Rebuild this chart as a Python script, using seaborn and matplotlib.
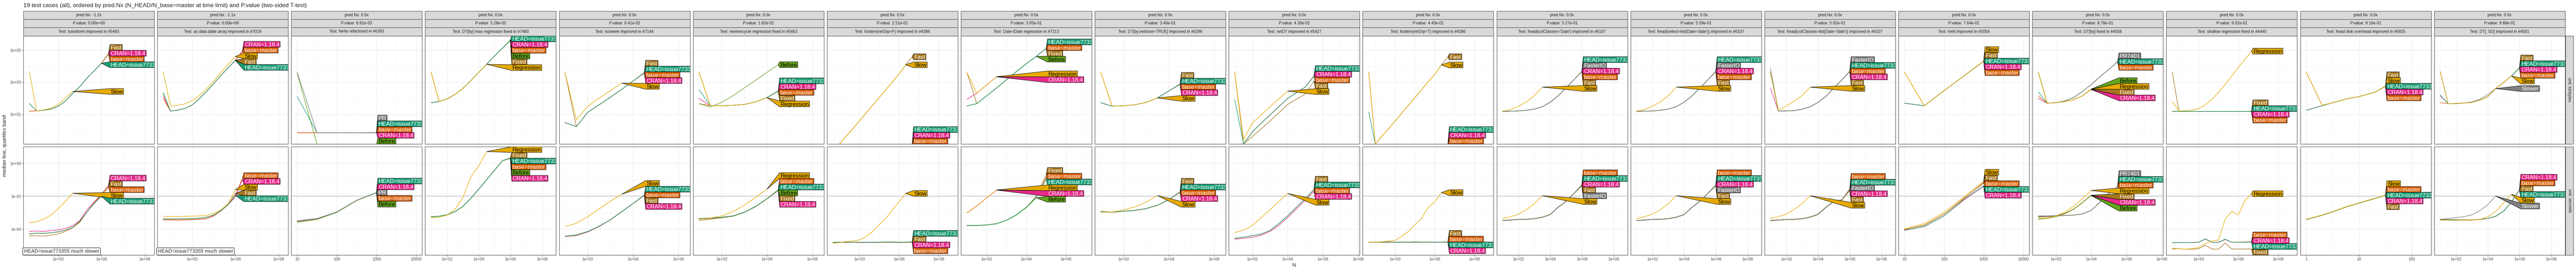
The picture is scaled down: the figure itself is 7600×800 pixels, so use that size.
import numpy as np
import pandas as pd
import matplotlib
matplotlib.use("Agg")
import matplotlib.pyplot as plt
import seaborn as sns
from matplotlib.patches import Polygon
from matplotlib.ticker import NullFormatter

sns.set_theme(style="white")
plt.rcParams["font.family"] = ["Liberation Sans", "DejaVu Sans"]

H = "HEAD=issue773355"
B = "base=master"
C = "CRAN=1.18.4"

TITLE = ("19 test cases (all), ordered by pred.Nx (N_HEAD/N_base=master at time limit) "
         "and P.value (two-sided T-test)")
PRED_NX = ["-1.2x", "-1.1x", "0.0x", "0.0x", "0.0x", "0.0x", "0.0x", "0.0x", "0.0x", "0.0x",
           "0.0x", "0.0x", "0.0x", "0.0x", "0.0x", "0.0x", "0.0x", "0.0x", "0.0x"]
P_VALUES = ["0.00e+00", "0.00e+00", "8.81e-03", "5.28e-02", "9.41e-02", "1.82e-01", "2.51e-01",
            "3.05e-01", "3.40e-01", "4.30e-01", "4.45e-01", "5.27e-01", "5.59e-01", "5.62e-01",
            "7.64e-01", "8.78e-01", "9.02e-01", "9.16e-01", "9.88e-01"]
TESTS = ["transform improved in #5493", "as.data.table.array improved in #7019",
         "fwrite refactored in #6393", "DT[by] max regression fixed in #7480",
         "isoweek improved in #7144", "memrecycle regression fixed in #5463",
         "forderv(retGrp=F) improved in #4386", "Date-IDate regression in #7213",
         "DT[by,verbose=TRUE] improved in #6296", "setDT improved in #5427",
         "forderv(retGrp=T) improved in #4386", "fread(colClasses='Date') improved in #6107",
         "fread(select=list(Date='date')) improved in #6107",
         "fread(colClasses=list(Date='date')) improved in #6107", "melt improved in #5054",
         "DT[by] fixed in #4558", "shallow regression fixed in #4440",
         "fread disk overhead improved in #6925", "DT[,.SD] improved in #4501"]
ROW_UNITS = ["unit: kilobytes", "unit: seconds"]
SLOWER_NOTE = "HEAD=issue773355 much slower"

# N grids
N_HALF = [10, 31.6, 100, 316, 1000, 3160, 1e4, 3.16e4, 1e5, 3.16e5, 1e6, 3.16e6, 1e7]
N_FEW = [1, 2, 3, 6, 10, 20, 32]

# x ticks per panel (values and labels)
X_TICKS = [[1e3, 1e6, 1e9], [1e3, 1e6, 1e9], [10, 100, 1000, 10000], [1e2, 1e4, 1e6, 1e8],
           [1e2, 1e4, 1e6], [1e2, 1e4, 1e6], [1e3, 1e6, 1e9], [1e2, 1e4, 1e6], [1e2, 1e4, 1e6],
           [1e2, 1e4, 1e6, 1e8], [1e3, 1e6, 1e9], [1e2, 1e4, 1e6, 1e8], [1e2, 1e4, 1e6, 1e8],
           [1e2, 1e4, 1e6, 1e8], [10, 100, 1000, 10000], [1e2, 1e4, 1e6, 1e8], [1e3, 1e6, 1e9],
           [1, 10, 100], [1e2, 1e4, 1e6, 1e8]]
SCI3 = ["1e+03", "1e+06", "1e+09"]
SCI2 = ["1e+02", "1e+04", "1e+06"]
SCI24 = ["1e+02", "1e+04", "1e+06", "1e+08"]
PLAIN4 = ["10", "100", "1000", "10000"]
X_TICK_LABELS = [SCI3, SCI3, PLAIN4, SCI24, SCI2, SCI2, SCI3, SCI2, SCI2, SCI24, SCI3, SCI24,
                 SCI24, SCI24, PLAIN4, SCI24, SCI3, ["1", "10", "100"], SCI24]
Y_TICKS = [[1e1, 1e3, 1e5], [1e-4, 1e-2, 1e0]]
Y_TICK_LABELS = [["1e+01", "1e+03", "1e+05"], ["1e-04", "1e-02", "1e+00"]]
Y_MINOR = [[1e0, 1e2, 1e4, 1e6], [1e-5, 1e-3, 1e-1, 1e1]]
Y_LIMITS_LOG = [(-0.84, 5.89), (-5.59, 1.02)]
TIME_LIMIT = 1e-2

# ---------- data: log10(kilobytes) and log10(seconds) per version ----------
P00_KB = {"Slow": [3.67, 1.22, 1.28, 1.39, 1.63, 2.02, 2.43],
          H: [1.68, 1.22, 1.26, 1.33, 1.51, 1.83, 2.30, 2.73, 3.26, 3.72, 4.19],
          B: [1.21, 1.22, 1.26, 1.33, 1.51, 1.83, 2.30, 2.73, 3.26, 3.72, 4.19, 4.76],
          C: [1.21, 1.22, 1.26, 1.33, 1.51, 1.83, 2.30, 2.73, 3.26, 3.72, 4.19, 4.78],
          "Fast": [1.68, 1.22, 1.26, 1.33, 1.51, 1.83, 2.30, 2.73, 3.26, 3.72, 4.19, 4.80]}
P00_SEC = {"Slow": [-3.61, -3.56, -3.40, -3.15, -2.76, -2.32, -1.82],
           C: [-4.15, -4.12, -4.15, -4.09, -4.05, -3.97, -3.81, -3.48, -2.83, -2.35, -1.87, -1.33],
           H: [-4.30, -4.25, -4.27, -4.22, -4.17, -4.07, -3.90, -3.52, -2.97, -2.45, -2.00],
           B: [-4.31, -4.26, -4.28, -4.23, -4.18, -4.08, -3.92, -3.55, -2.95, -2.40, -1.95, -1.46],
           "Fast": [-4.43, -4.40, -4.43, -4.38, -4.30, -4.15, -3.92, -3.59, -2.97, -2.42, -1.87, -1.38]}

P01_KB = {"Slow": [3.64, 1.51, 1.57, 1.65, 1.86, 2.18, 2.59, 3.08, 3.62, 4.14, 4.61],
          H: [2.35, 1.21, 1.27, 1.37, 1.59, 1.98, 2.43, 2.92, 3.43, 3.91, 4.37],
          "Fast": [2.30, 1.21, 1.27, 1.37, 1.59, 1.98, 2.43, 2.92, 3.43, 3.91, 4.38],
          C: [2.13, 1.21, 1.27, 1.37, 1.59, 1.98, 2.43, 2.92, 3.43, 3.91, 4.37, 4.97],
          B: [1.98, 1.21, 1.27, 1.37, 1.59, 1.98, 2.43, 2.92, 3.43, 3.91, 4.37, 4.91]}
P01_SEC = {"Slow": [-3.23, -3.24, -3.24, -3.23, -3.22, -3.20, -3.16, -3.05, -2.83, -2.46, -1.60],
           H: [-3.39, -3.39, -3.39, -3.38, -3.37, -3.35, -3.28, -3.15, -2.88, -2.52, -1.94],
           "Fast": [-3.38, -3.38, -3.38, -3.37, -3.36, -3.34, -3.27, -3.14, -2.87, -2.50, -1.84],
           C: [-3.44, -3.45, -3.46, -3.45, -3.43, -3.41, -3.37, -3.20, -2.90, -2.52, -2.04, -0.99],
           B: [-3.43, -3.44, -3.45, -3.44, -3.42, -3.40, -3.36, -3.18, -2.89, -2.50, -1.94, -0.88]}

P02_KB = {"PR": [3.62, -0.14, -0.14, -0.14, -0.13],
          H: [2.11, -0.14, -0.14, -0.14, -0.135],
          B: [-0.14, -0.14, -0.14, -0.14, -0.14],
          C: [-0.14, -0.14, -0.14, -0.14, -0.145],
          "Before": [3.55, -0.86, -0.90, -0.90, -0.90]}
P02_SEC = {H: [-3.52, -3.37, -2.96, -2.25, -1.770],
           C: [-3.50, -3.36, -2.96, -2.25, -1.775],
           "PR": [-3.54, -3.38, -2.97, -2.25, -1.780],
           B: [-3.55, -3.39, -2.97, -2.26, -1.785],
           "Before": [-3.60, -3.42, -2.99, -2.27, -1.790]}

P03_KB = {"Regression": [3.62, 1.80, 1.97, 2.24, 2.62, 3.10, 3.62, 4.12],
          H: [1.73, 1.80, 1.97, 2.24, 2.62, 3.10, 3.62, 4.12, 4.64, 5.13, 5.64],
          C: [1.73, 1.80, 1.97, 2.24, 2.62, 3.10, 3.62, 4.12, 4.64, 5.13, 5.63],
          B: [1.73, 1.80, 1.97, 2.24, 2.62, 3.10, 3.62, 4.12, 4.64, 5.13, 5.62],
          "Before": [1.73, 1.80, 1.97, 2.24, 2.62, 3.10, 3.62, 4.12, 4.64, 5.13, 5.61],
          "Fixed": [3.62, 1.80, 1.97, 2.24, 2.62, 3.10, 3.62, 4.12, 4.64, 5.13, 5.60]}
P03_SEC = {"Regression": [-3.31, -3.29, -3.15, -2.80, -2.09, -0.83, -0.15, 0.72],
           "Fixed": [-3.25, -3.22, -3.13, -2.94, -2.62, -2.13, -1.57, -0.99, -0.41, 0.17, 0.34],
           H: [-3.25, -3.22, -3.13, -2.94, -2.62, -2.13, -1.57, -0.99, -0.41, 0.17, 0.33],
           B: [-3.25, -3.22, -3.13, -2.94, -2.62, -2.13, -1.57, -0.99, -0.41, 0.17, 0.32],
           "Before": [-3.27, -3.23, -3.14, -2.95, -2.63, -2.14, -1.58, -1.00, -0.42, 0.16, 0.31],
           C: [-3.26, -3.23, -3.14, -2.95, -2.63, -2.14, -1.58, -1.00, -0.42, 0.16, 0.30]}

P04_KB = {"Slow": [3.60, 0.67, 1.51, 2.00, 2.48, 2.95],
          H: [0.49, 0.24, 1.13, 1.60, 2.07, 2.56, 3.08, 3.60],
          "Fast": [3.60, 0.24, 1.13, 1.60, 2.07, 2.56, 3.08, 3.62],
          B: [0.49, 0.24, 1.13, 1.60, 2.07, 2.56, 3.08, 3.59],
          C: [0.49, 0.24, 1.13, 1.60, 2.07, 2.56, 3.08, 3.58]}
P04_SEC = {"Slow": [-3.85, -3.65, -3.25, -2.78, -2.31, -1.88],
           H: [-4.44, -4.36, -4.15, -3.83, -3.43, -2.94, -2.44, -1.92],
           B: [-4.44, -4.37, -4.15, -3.83, -3.43, -2.94, -2.44, -1.93],
           "Fast": [-4.45, -4.38, -4.16, -3.84, -3.44, -2.95, -2.45, -1.94],
           C: [-4.46, -4.40, -4.18, -3.85, -3.44, -2.95, -2.45, -1.95]}

P05_KB = {"Before": [1.67, 1.46, 1.75, 2.16, 2.65, 3.13, 3.62, 4.10],
          "Regression": [3.64, 1.54, 1.54, 1.57, 1.62, 1.78, 2.05],
          H: [2.54, 1.54, 1.54, 1.57, 1.62, 1.78, 2.05, 2.47],
          C: [2.00, 1.54, 1.54, 1.57, 1.62, 1.78, 2.05, 2.46],
          B: [1.67, 1.54, 1.54, 1.57, 1.62, 1.78, 2.05, 2.45],
          "Fixed": [3.64, 1.54, 1.54, 1.57, 1.62, 1.78, 2.05, 2.44]}
P05_SEC = {"Regression": [-3.41, -3.33, -3.20, -2.94, -2.55, -2.07, -1.57],
           B: [-3.36, -3.33, -3.28, -3.20, -2.97, -2.62, -2.15, -1.60],
           H: [-3.36, -3.33, -3.28, -3.20, -2.97, -2.62, -2.15, -1.62],
           "Before": [-3.40, -3.35, -3.29, -3.21, -2.98, -2.63, -2.16, -1.63],
           "Fixed": [-3.48, -3.40, -3.32, -3.22, -2.98, -2.63, -2.16, -1.64],
           C: [-3.40, -3.36, -3.30, -3.22, -2.99, -2.64, -2.17, -1.65]}

P06_KB = {"Slow": [-1.30, -0.84, -0.35, 0.10, 0.59, 1.08, 1.57, 2.05, 2.54, 3.03, 3.51, 4.09],
          "Fast": [-1.30, -0.84, -0.35, 0.10, 0.59, 1.08, 1.57, 2.05, 2.54, 3.03, 3.51, 4.09, 4.59],
          H: [-0.86, -0.86, -0.86, -0.86, -0.86, -0.86, -0.86, -0.86, -0.86, -0.86, -0.86, -0.86, -0.85],
          C: [-0.86, -0.86, -0.86, -0.86, -0.86, -0.86, -0.86, -0.86, -0.86, -0.86, -0.86, -0.86, -0.86],
          B: [-0.86, -0.86, -0.86, -0.86, -0.86, -0.86, -0.86, -0.86, -0.86, -0.86, -0.86, -0.86, -0.87]}
P06_SEC = {"Slow": [-4.88, -4.83, -4.76, -4.73, -4.67, -4.46, -4.15, -3.73, -3.36, -2.83, -2.36, -1.83],
           H: [-4.81, -4.80, -4.81, -4.79, -4.81, -4.80, -4.81, -4.80, -4.79, -4.80, -4.81, -4.80, -4.78],
           "Fast": [-4.82, -4.81, -4.80, -4.80, -4.82, -4.81, -4.80, -4.81, -4.80, -4.79, -4.80, -4.81, -4.79],
           C: [-4.83, -4.82, -4.82, -4.81, -4.83, -4.82, -4.82, -4.82, -4.81, -4.82, -4.82, -4.82, -4.80],
           B: [-4.82, -4.81, -4.82, -4.81, -4.82, -4.81, -4.82, -4.81, -4.82, -4.81, -4.82, -4.82, -4.81]}

P07_KB = {"Regression": [3.62, 2.32, 2.84, 3.35],
          C: [1.94, 2.32, 2.84, 3.34],
          H: [1.53, 1.67, 2.16, 2.65, 3.16, 3.67, 4.16, 4.62, 5.11],
          B: [1.53, 1.67, 2.16, 2.65, 3.16, 3.67, 4.16, 4.62, 5.10],
          "Fixed": [3.62, 1.67, 2.16, 2.65, 3.16, 3.67, 4.16, 4.62, 5.09],
          "Before": [1.53, 1.67, 2.16, 2.65, 3.16, 3.67, 4.16, 4.62]}
P07_SEC = {"Regression": [-3.01, -2.59, -2.09, -1.62],
           C: [-3.02, -2.60, -2.10, -1.63],
           H: [-3.78, -3.78, -3.75, -3.67, -3.46, -3.13, -2.67, -2.04, -0.95],
           B: [-3.78, -3.78, -3.75, -3.67, -3.46, -3.13, -2.67, -2.04, -0.85],
           "Fixed": [-3.79, -3.79, -3.76, -3.68, -3.47, -3.14, -2.68, -2.00, -0.70],
           "Before": [-3.80, -3.79, -3.76, -3.68, -3.47, -3.15, -2.70, -2.10]}

P08_KB = {"Slow": [3.62, 1.51, 1.54, 1.60, 1.75, 2.03],
          H: [1.73, 1.51, 1.54, 1.60, 1.75, 2.03, 2.46, 2.89],
          "Fast": [3.62, 1.51, 1.54, 1.60, 1.75, 2.03, 2.46, 2.90],
          B: [1.73, 1.51, 1.54, 1.60, 1.75, 2.03, 2.46, 2.88],
          C: [1.73, 1.51, 1.54, 1.60, 1.75, 2.03, 2.46, 2.87]}
P08_SEC = {"Slow": [-2.91, -2.97, -2.83, -2.65, -2.36, -1.96],
           H: [-2.94, -2.97, -2.91, -2.86, -2.75, -2.55, -2.20, -1.75],
           "Fast": [-2.96, -2.98, -2.92, -2.87, -2.76, -2.56, -2.21, -1.73],
           B: [-2.95, -2.97, -2.91, -2.86, -2.75, -2.55, -2.20, -1.76],
           C: [-2.95, -2.98, -2.92, -2.87, -2.76, -2.56, -2.21, -1.77]}

P09_KB = {"Slow": [3.64, -0.57, 0.47, 0.98, 1.48, 1.97, 2.45],
          H: [1.91, -0.84, -0.08, 0.45, 0.97, 1.48, 2.00, 2.35, 2.70, 3.40],
          C: [-0.90, -0.84, -0.08, 0.45, 0.97, 1.48, 2.00, 2.35, 2.70, 3.39],
          B: [-0.90, -0.84, -0.08, 0.45, 0.97, 1.48, 2.00, 2.35, 2.70, 3.38],
          "Fast": [3.64, -0.84, -0.38, 0.10, 0.59, 1.10, 1.62, 1.95, 2.27, 3.08]}
P09_SEC = {"Slow": [-4.22, -4.07, -3.78, -3.30, -2.83, -2.33, -1.83],
           H: [-4.57, -4.50, -4.41, -4.31, -4.09, -3.67, -3.20, -2.67, -2.15, -1.60],
           "Fast": [-4.57, -4.50, -4.41, -4.31, -4.09, -3.67, -3.20, -2.67, -2.15, -1.58],
           B: [-4.57, -4.50, -4.41, -4.31, -4.09, -3.67, -3.20, -2.67, -2.15, -1.61],
           C: [-4.62, -4.57, -4.51, -4.38, -4.15, -3.78, -3.30, -2.78, -2.25, -1.70]}

P10_KB = {"Slow": [3.64, -0.84, -0.35, 0.10, 0.59, 1.08, 1.57, 2.05, 2.54, 3.03, 3.49, 4.08],
          "Fast": [3.64, -0.84, -0.35, 0.10, 0.59, 1.08, 1.57, 2.05, 2.54, 3.03, 3.49, 4.08, 4.59],
          H: [1.16, -0.86, -0.86, -0.86, -0.86, -0.86, -0.86, -0.86, -0.86, -0.86, -0.86, -0.86, -0.85],
          C: [-0.86, -0.86, -0.86, -0.86, -0.86, -0.86, -0.86, -0.86, -0.86, -0.86, -0.86, -0.86, -0.86],
          B: [-0.86, -0.86, -0.86, -0.86, -0.86, -0.86, -0.86, -0.86, -0.86, -0.86, -0.86, -0.86, -0.87]}
P10_SEC = {"Slow": [-4.81, -4.81, -4.78, -4.73, -4.69, -4.44, -4.15, -3.73, -3.36, -2.67, -2.36, -1.78],
           "Fast": [-4.80, -4.79, -4.80, -4.78, -4.80, -4.79, -4.80, -4.78, -4.80, -4.79, -4.80, -4.80, -4.78],
           B: [-4.81, -4.80, -4.81, -4.80, -4.81, -4.80, -4.81, -4.80, -4.81, -4.80, -4.81, -4.80, -4.79],
           H: [-4.81, -4.80, -4.80, -4.79, -4.81, -4.80, -4.81, -4.80, -4.80, -4.80, -4.81, -4.80, -4.80],
           C: [-4.82, -4.81, -4.82, -4.81, -4.82, -4.81, -4.82, -4.81, -4.82, -4.81, -4.82, -4.81, -4.81]}

P11_KB = {"Slow": [1.21, 1.30, 1.51, 1.78, 2.16, 2.70],
          H: [1.19, 1.20, 1.22, 1.26, 1.33, 1.48, 1.76, 2.16, 2.65, 3.16, 3.70],
          "FasterIO": [1.19, 1.20, 1.22, 1.26, 1.33, 1.48, 1.76, 2.16, 2.65, 3.16, 3.69],
          C: [1.19, 1.20, 1.22, 1.26, 1.33, 1.48, 1.76, 2.16, 2.65, 3.16, 3.68],
          B: [1.19, 1.20, 1.22, 1.26, 1.33, 1.48, 1.76, 2.16, 2.65, 3.16, 3.67],
          "Fast": [1.19, 1.20, 1.22, 1.26, 1.33, 1.48, 1.76, 2.16, 2.65, 3.16, 3.66]}
P11_SEC = {"Slow": [-3.36, -3.25, -3.09, -2.83, -2.46, -1.97],
           B: [-3.47, -3.44, -3.41, -3.40, -3.36, -3.27, -3.11, -2.66, -2.30, -1.82, -1.30],
           H: [-3.48, -3.45, -3.41, -3.41, -3.37, -3.28, -3.12, -2.67, -2.31, -1.83, -1.33],
           C: [-3.49, -3.46, -3.42, -3.41, -3.38, -3.29, -3.13, -2.68, -2.32, -1.84, -1.35],
           "Fast": [-3.48, -3.45, -3.42, -3.41, -3.37, -3.28, -3.12, -2.67, -2.31, -1.83, -1.36],
           "FasterIO": [-3.49, -3.46, -3.42, -3.42, -3.38, -3.29, -3.13, -2.68, -2.32, -1.84, -1.37]}

P12_KB = {"Slow": [1.21, 1.30, 1.51, 1.78, 2.16, 2.70],
          H: [1.19, 1.20, 1.22, 1.26, 1.33, 1.48, 1.76, 2.16, 2.65, 3.16, 3.70],
          "FasterIO": [1.19, 1.20, 1.22, 1.26, 1.33, 1.48, 1.76, 2.16, 2.65, 3.16, 3.69],
          C: [1.19, 1.20, 1.22, 1.26, 1.33, 1.48, 1.76, 2.16, 2.65, 3.16, 3.68],
          B: [1.19, 1.20, 1.22, 1.26, 1.33, 1.48, 1.76, 2.16, 2.65, 3.16, 3.67],
          "Fast": [1.19, 1.20, 1.22, 1.26, 1.33, 1.48, 1.76, 2.16, 2.65, 3.16, 3.66]}
P12_SEC = {"Slow": [-3.36, -3.25, -3.09, -2.83, -2.46, -1.97],
           B: [-3.47, -3.44, -3.41, -3.40, -3.36, -3.27, -3.11, -2.66, -2.30, -1.82, -1.30],
           H: [-3.48, -3.45, -3.41, -3.41, -3.37, -3.28, -3.12, -2.67, -2.31, -1.83, -1.33],
           C: [-3.49, -3.46, -3.42, -3.41, -3.38, -3.29, -3.13, -2.68, -2.32, -1.84, -1.35],
           "FasterIO": [-3.49, -3.46, -3.42, -3.42, -3.38, -3.29, -3.13, -2.68, -2.32, -1.84, -1.36],
           "Fast": [-3.48, -3.45, -3.42, -3.41, -3.37, -3.28, -3.12, -2.67, -2.31, -1.83, -1.37]}

P13_KB = {"Slow": [3.64, 1.26, 1.53, 1.84, 2.18, 2.70],
          "FasterIO": [3.86, 1.21, 1.22, 1.24, 1.32, 1.48, 1.75, 2.13, 2.65, 3.15, 3.70],
          H: [3.58, 1.21, 1.22, 1.24, 1.32, 1.48, 1.75, 2.13, 2.65, 3.15, 3.69],
          B: [3.62, 1.21, 1.22, 1.24, 1.32, 1.48, 1.75, 2.13, 2.65, 3.15, 3.68],
          C: [2.62, 1.21, 1.22, 1.24, 1.32, 1.48, 1.75, 2.13, 2.65, 3.15, 3.67],
          "Fast": [3.64, 1.21, 1.22, 1.24, 1.32, 1.48, 1.75, 2.13, 2.65, 3.15, 3.66]}
P13_SEC = {"Slow": [-3.36, -3.25, -3.09, -2.81, -2.44, -1.97],
           B: [-3.47, -3.44, -3.41, -3.40, -3.36, -3.26, -3.09, -2.66, -2.30, -2.21, -1.55],
           H: [-3.48, -3.45, -3.41, -3.41, -3.37, -3.27, -3.10, -2.67, -2.31, -2.22, -1.60],
           "FasterIO": [-3.49, -3.45, -3.42, -3.41, -3.37, -3.28, -3.11, -2.68, -2.32, -2.23, -1.62],
           C: [-3.49, -3.46, -3.42, -3.42, -3.38, -3.28, -3.11, -2.68, -2.32, -2.23, -1.64],
           "Fast": [-3.50, -3.46, -3.43, -3.42, -3.38, -3.29, -3.12, -2.69, -2.33, -2.24, -1.66]}

P14_KB = {"Slow": [3.64, 1.54, 2.48, 3.40, 4.330],
          "Fast": [3.64, 1.54, 2.48, 3.40, 4.325],
          H: [1.70, 1.54, 2.48, 3.40, 4.320],
          C: [1.70, 1.54, 2.48, 3.40, 4.315],
          B: [1.70, 1.54, 2.48, 3.40, 4.310]}
P14_SEC = {"Slow": [-3.99, -3.67, -2.99, -2.04, -1.09],
           "Fast": [-4.02, -3.78, -3.10, -2.15, -1.15],
           B: [-4.03, -3.76, -3.10, -2.12, -1.20],
           H: [-4.09, -3.85, -3.20, -2.20, -1.36],
           C: [-4.07, -3.86, -3.20, -2.23, -1.39]}

P15_KB = {"Before": [3.62, 1.70, 1.73, 1.80, 1.92, 2.16, 2.58],
          "Regression": [3.62, 1.70, 1.73, 1.80, 1.92, 2.16, 2.57],
          "Fixed": [3.62, 1.70, 1.73, 1.80, 1.92, 2.16, 2.56],
          C: [2.00, 1.70, 1.73, 1.80, 1.92, 2.16, 2.55],
          "PR7401": [3.62, 1.70, 1.73, 1.84, 2.05, 2.43, 2.86, 3.35, 3.80, 4.30],
          H: [2.40, 1.70, 1.73, 1.84, 2.05, 2.43, 2.86, 3.35, 3.80, 4.29],
          B: [2.16, 1.70, 1.73, 1.84, 2.05, 2.43, 2.86, 3.35, 3.80, 4.28]}
P15_SEC = {"Regression": [-3.36, -3.33, -3.20, -2.97, -2.62, -2.15, -1.65],
           "Fixed": [-3.39, -3.33, -3.20, -3.04, -2.78, -2.38, -1.94],
           C: [-3.26, -3.25, -3.20, -3.05, -2.79, -2.39, -1.95],
           "Before": [-3.40, -3.36, -3.25, -3.08, -2.80, -2.40, -1.96],
           "PR7401": [-3.20, -3.20, -3.18, -3.17, -3.15, -3.08, -2.86, -2.36, -1.83, -1.40],
           H: [-3.24, -3.22, -3.19, -3.17, -3.15, -3.08, -2.86, -2.36, -1.83, -1.41],
           B: [-3.28, -3.24, -3.20, -3.18, -3.16, -3.09, -2.87, -2.37, -1.84, -1.42]}

P16_KB = {"Regression": [1.80, 1.21, 1.23, 1.26, 1.37, 1.60, 1.94, 2.38, 2.86, 3.40, 3.94, 4.43, 4.94],
          "Fixed": [3.62, 1.19, 1.19, 1.19, 1.19, 1.19, 1.19, 1.19, 1.19, 1.19, 1.19, 1.19, 1.20],
          H: [1.19, 1.19, 1.19, 1.19, 1.19, 1.19, 1.19, 1.19, 1.19, 1.19, 1.19, 1.19, 1.19],
          C: [1.19, 1.19, 1.19, 1.19, 1.19, 1.19, 1.19, 1.19, 1.19, 1.19, 1.19, 1.19, 1.18],
          B: [1.19, 1.19, 1.19, 1.19, 1.19, 1.19, 1.19, 1.19, 1.19, 1.19, 1.19, 1.19, 1.17]}
P16_SEC = {"Regression": [-5.17, -5.20, -5.23, -5.20, -5.12, -4.90, -4.73, -4.67, -3.41, -2.92, -3.15, -2.25, -1.85],
           "Fixed": [-5.22, -5.20, -5.23, -5.23, -5.20, -4.99, -5.22, -5.23, -4.85, -5.22, -5.22, -5.22, -5.22],
           H: [-4.83, -4.83, -4.83, -4.83, -4.81, -4.60, -4.81, -4.81, -4.62, -4.81, -4.81, -4.81, -4.80],
           C: [-4.83, -4.82, -4.83, -4.82, -4.81, -4.62, -4.81, -4.82, -4.64, -4.81, -4.81, -4.80, -4.79],
           B: [-4.82, -4.82, -4.83, -4.82, -4.80, -4.61, -4.80, -4.81, -4.63, -4.80, -4.80, -4.79, -4.78]}

P17_KB = {"Fast": [3.64, 1.57, 1.71, 1.98, 2.11, 2.38, 2.770],
          "Slow": [3.64, 1.57, 1.71, 1.98, 2.11, 2.38, 2.760],
          H: [1.26, 1.54, 1.71, 1.98, 2.11, 2.38, 2.750],
          C: [1.26, 1.54, 1.71, 1.98, 2.11, 2.38, 2.745],
          B: [1.26, 1.54, 1.71, 1.98, 2.11, 2.38, 2.740]}
P17_SEC = {"Slow": [-3.41, -3.15, -2.97, -2.62, -2.41, -2.13, -1.930],
           B: [-3.41, -3.15, -2.97, -2.62, -2.41, -2.13, -1.935],
           H: [-3.42, -3.16, -2.98, -2.63, -2.42, -2.14, -1.940],
           C: [-3.42, -3.16, -2.98, -2.63, -2.42, -2.14, -1.945],
           "Fast": [-3.43, -3.17, -2.99, -2.64, -2.43, -2.15, -1.950]}

P18_KB = {"Slow": [3.67, 1.67, 1.67, 1.71, 1.75, 1.89, 2.11, 2.61, 2.99, 3.40],
          "Slower": [3.67, 1.67, 1.69, 1.71, 1.78, 1.94, 2.24, 2.61],
          H: [2.21, 1.67, 1.67, 1.71, 1.75, 1.89, 2.11, 2.61, 2.99, 3.40, 3.90],
          "Fast": [3.67, 1.67, 1.67, 1.71, 1.75, 1.89, 2.11, 2.61, 2.99, 3.40, 3.91],
          C: [2.17, 1.67, 1.67, 1.71, 1.75, 1.89, 2.11, 2.61, 2.99, 3.40, 3.89],
          B: [1.73, 1.67, 1.67, 1.71, 1.75, 1.89, 2.11, 2.61, 2.99, 3.40, 3.88]}
P18_SEC = {"Slower": [-3.41, -3.36, -3.30, -3.25, -3.13, -2.88, -2.52, -1.99],
           "Slow": [-3.47, -3.47, -3.47, -3.46, -3.45, -3.42, -3.25, -2.94, -2.41, -1.88],
           H: [-3.41, -3.43, -3.43, -3.45, -3.45, -3.41, -3.35, -3.22, -2.91, -2.34, -1.63],
           "Fast": [-3.42, -3.43, -3.44, -3.45, -3.45, -3.42, -3.36, -3.23, -2.92, -2.35, -1.62],
           B: [-3.40, -3.42, -3.43, -3.44, -3.44, -3.41, -3.35, -3.22, -2.91, -2.34, -1.61],
           C: [-3.43, -3.44, -3.44, -3.46, -3.46, -3.42, -3.36, -3.23, -2.92, -2.35, -1.60]}

PANEL_KB = [P00_KB, P01_KB, P02_KB, P03_KB, P04_KB, P05_KB, P06_KB, P07_KB, P08_KB, P09_KB,
            P10_KB, P11_KB, P12_KB, P13_KB, P14_KB, P15_KB, P16_KB, P17_KB, P18_KB]
PANEL_SEC = [P00_SEC, P01_SEC, P02_SEC, P03_SEC, P04_SEC, P05_SEC, P06_SEC, P07_SEC, P08_SEC,
             P09_SEC, P10_SEC, P11_SEC, P12_SEC, P13_SEC, P14_SEC, P15_SEC, P16_SEC, P17_SEC,
             P18_SEC]
PANEL_N = [N_HALF, N_HALF, N_HALF, N_HALF, N_HALF, N_HALF, N_HALF, N_HALF, N_HALF, N_HALF,
           N_HALF, N_HALF, N_HALF, N_HALF, N_HALF, N_HALF, N_HALF, N_FEW, N_HALF]

# ---------- styles ----------
COLORS = {H: "#1B9E77", B: "#D95F02", C: "#E7298A", "Fast": "#A6761D", "Fixed": "#A6761D",
          "Slow": "#E6AB02", "Regression": "#E6AB02", "Before": "#66A61E", "PR": "#7F7F7F",
          "PR7401": "#7F7F7F", "FasterIO": "#7F7F7F", "Slower": "#7F7F7F"}
DARK_TEXT = {"Slow", "Regression", "Before"}
DRAW_RANK = {C: 0, B: 1, "Fast": 2, "Fixed": 2, "Before": 3, H: 4, "PR": 5, "PR7401": 5,
             "FasterIO": 5, "Slower": 5, "Slow": 6, "Regression": 6}

FW, FH = 7600.0, 800.0
fig = plt.figure(figsize=(FW / 100, FH / 100), dpi=100)
renderer = fig.canvas.get_renderer()


def add_px_axes(left, top, width, height, **kw):
    return fig.add_axes([left / FW, 1 - (top + height) / FH, width / FW, height / FH], **kw)


PANEL_X0, PANEL_DX, PANEL_W = 69.0, 395.15, 386.0
ROWS = [(106.0, 319.0), (433.0, 320.0)]
STRIPS = [(33.0, 24.0), (57.0, 24.0), (81.0, 25.0)]
LABEL_FS = 12
LABEL_H = 17.0
BORDER = "#333333"


def stack_positions(targets, h, lo, hi):
    n = len(targets)
    z = [t + i * h for i, t in enumerate(targets)]
    blocks = []
    for v in z:
        blocks.append([v, 1])
        while len(blocks) > 1 and blocks[-2][0] / blocks[-2][1] < blocks[-1][0] / blocks[-1][1]:
            s, c = blocks.pop()
            blocks[-1][0] += s
            blocks[-1][1] += c
    fit = []
    for s, c in blocks:
        fit += [s / c] * c
    y = [f - i * h for i, f in enumerate(fit)]
    y = [min(v, hi - h / 2 - i * h) for i, v in enumerate(y)]
    y = [max(v, lo + h / 2 + (n - 1 - i) * h) for i, v in enumerate(y)]
    return y


def draw_labels(ax, data, N):
    ends = []
    for k, (name, vals) in enumerate(data.items()):
        px, py = ax.transData.transform((N[len(vals) - 1], 10.0 ** vals[-1]))
        ends.append((name, px, py, k))
    xmax = max(e[1] for e in ends)
    bb = ax.get_window_extent(renderer)
    ends.sort(key=lambda e: (-e[2], e[3]))
    ys = stack_positions([e[2] for e in ends], LABEL_H, bb.y0, bb.y1)
    inv = ax.transAxes.inverted()
    box_left = xmax + 4
    for (name, px, py, _), yc in zip(ends, ys):
        tmp = fig.text(0, 0, name, fontsize=LABEL_FS)
        tw = tmp.get_window_extent(renderer).width
        tmp.remove()
        bw = tw + 4
        verts = [(px, py), (box_left, yc + LABEL_H / 2), (box_left + bw, yc + LABEL_H / 2),
                 (box_left + bw, yc - LABEL_H / 2), (box_left, yc - LABEL_H / 2)]
        ax.add_patch(Polygon(inv.transform(verts), closed=True, transform=ax.transAxes,
                             facecolor=COLORS[name], edgecolor="black", linewidth=0.8, zorder=5))
        tx, ty = inv.transform((box_left + 2, yc - LABEL_H / 2 + 2.6))
        ax.text(tx, ty, name, transform=ax.transAxes, fontsize=LABEL_FS,
                color="black" if name in DARK_TEXT else "white", ha="left", va="baseline",
                zorder=6, clip_on=True)


def minor_of(ticks):
    e = np.log10(ticks)
    step = e[1] - e[0]
    return list(10.0 ** (np.append(e - step / 2, e[-1] + step / 2)))


for p in range(19):
    left = PANEL_X0 + p * PANEL_DX
    N = PANEL_N[p]
    # strips
    strip_texts = [f"pred.Nx: {PRED_NX[p]}", f"P.value: {P_VALUES[p]}", f"Test: {TESTS[p]}"]
    for (st, sh), txt in zip(STRIPS, strip_texts):
        sax = add_px_axes(left, st, PANEL_W, sh)
        sax.set_facecolor("#D9D9D9")
        sax.set_xticks([])
        sax.set_yticks([])
        for s in sax.spines.values():
            s.set_color(BORDER)
            s.set_linewidth(0.8)
        sax.text(0.5, 0.5, txt, ha="center", va="center", fontsize=8.6, color="#1A1A1A",
                 transform=sax.transAxes)
    npts = max(max(len(v) for v in PANEL_KB[p].values()), max(len(v) for v in PANEL_SEC[p].values()))
    lo, hi = np.log10(N[0]), np.log10(N[npts - 1])
    xl0, xl1 = lo, hi + 0.5 * (hi - lo)
    ext = 0.05 * (xl1 - xl0)
    for r, data in enumerate([PANEL_KB[p], PANEL_SEC[p]]):
        top, height = ROWS[r]
        ax = add_px_axes(left, top, PANEL_W, height)
        ax.set_facecolor("white")
        ax.set_xscale("log")
        ax.set_yscale("log")
        if r == 1:
            ax.axhline(TIME_LIMIT, color="#BEBEBE", linewidth=1.2, zorder=1.5)
        frames = [pd.DataFrame({"N": N[:len(v)], "value": 10.0 ** np.array(v), "version": k})
                  for k, v in data.items()]
        df = pd.concat(frames, ignore_index=True)
        order = sorted(data.keys(), key=lambda k: DRAW_RANK[k])
        sns.lineplot(data=df, x="N", y="value", hue="version", hue_order=order,
                     palette={k: COLORS[k] for k in order}, estimator=None, errorbar=None,
                     legend=False, linewidth=1.1, sort=False, ax=ax)
        ax.set_xlabel("")
        ax.set_ylabel("")
        ax.set_xticks(X_TICKS[p], labels=X_TICK_LABELS[p])
        ax.set_xticks(minor_of(X_TICKS[p]), minor=True)
        ax.set_yticks(Y_TICKS[r], labels=Y_TICK_LABELS[r])
        ax.set_yticks(Y_MINOR[r], minor=True)
        ax.xaxis.set_minor_formatter(NullFormatter())
        ax.yaxis.set_minor_formatter(NullFormatter())
        ax.set_xlim(10 ** (xl0 - ext), 10 ** (xl1 + ext))
        ax.set_ylim(10 ** Y_LIMITS_LOG[r][0], 10 ** Y_LIMITS_LOG[r][1])
        ax.grid(True, which="major", color="#EBEBEB", linewidth=1.0)
        ax.grid(True, which="minor", color="#F0F0F0", linewidth=0.5)
        ax.set_axisbelow(True)
        ax.tick_params(which="major", length=3, width=0.8, color=BORDER, labelsize=8.4,
                       labelcolor="#4D4D4D", pad=2, bottom=True, left=True)
        ax.tick_params(which="minor", length=0)
        if p != 0:
            ax.tick_params(axis="y", which="major", length=0, labelleft=False)
        if r == 0:
            ax.tick_params(axis="x", which="major", length=0, labelbottom=False)
        for s in ax.spines.values():
            s.set_color(BORDER)
            s.set_linewidth(0.8)
        draw_labels(ax, data, N)
        if r == 1 and PRED_NX[p].startswith("-"):
            ax.text(0.004, 0.012, SLOWER_NOTE, transform=ax.transAxes, fontsize=10.7,
                    ha="left", va="bottom", zorder=7,
                    bbox=dict(boxstyle="round,pad=0.25,rounding_size=0.2", facecolor="white",
                              edgecolor="black", linewidth=0.8))

# right strips for units
for r, (top, height) in enumerate(ROWS):
    sax = add_px_axes(7569, top, 23, height)
    sax.set_facecolor("#D9D9D9")
    sax.set_xticks([])
    sax.set_yticks([])
    for s in sax.spines.values():
        s.set_color(BORDER)
        s.set_linewidth(0.8)
    sax.text(0.5, 0.5, ROW_UNITS[r], rotation=-90, ha="center", va="center", fontsize=8.6,
             color="#1A1A1A", transform=sax.transAxes)

fig.text(PANEL_X0 / FW, 1 - 16 / FH, TITLE, fontsize=12.5, ha="left", va="center")
fig.text(14 / FW, 1 - 430 / FH, "median line, quartiles band", rotation=90, fontsize=11,
         ha="center", va="center")
fig.text(3818 / FW, 1 - 783 / FH, "N", fontsize=11, ha="center", va="center")

fig.savefig("out.png", dpi=100)
